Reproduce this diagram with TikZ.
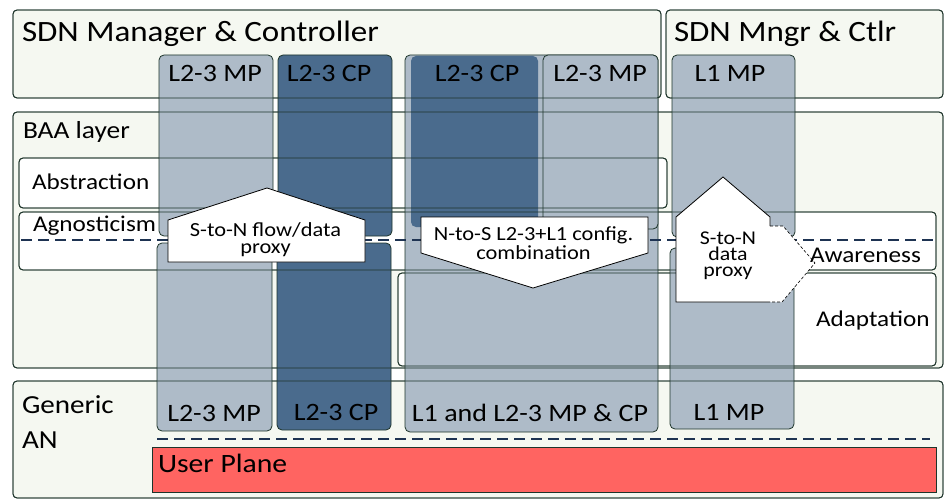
\documentclass[tikz,border=0pt]{standalone}
\usepackage{fontspec}
\setmainfont{Carlito}[FakeStretch=1.12]
\definecolor{bd}{HTML}{1D342A}
\definecolor{bgG}{HTML}{F5F8F1}
\definecolor{colL}{HTML}{AEBBC8}
\definecolor{colD}{HTML}{4A6B8D}
\definecolor{dsh}{HTML}{1E3352}
\definecolor{upred}{HTML}{FF6461}
\begin{document}
\begin{tikzpicture}[x=1pt,y=-1pt,
  every node/.style={inner sep=0pt,outer sep=0pt},
  gbox/.style={draw=bd,fill=bgG,line width=0.8pt,rounded corners=4pt,anchor=north west},
  wbox/.style={draw=bd,fill=white,line width=0.8pt,rounded corners=4pt,anchor=north west},
  lcol/.style={draw=bd,fill=colL,line width=0.8pt,rounded corners=5pt,anchor=north west},
  dcol/.style={draw=bd,fill=colD,line width=0.8pt,rounded corners=5pt,anchor=north west},
  outl/.style={draw=bd,line width=0.8pt,rounded corners=4pt},
  dline/.style={draw=dsh,line width=2.2pt,dash pattern=on 11pt off 6pt},
  arrshape/.style={draw=black,fill=white,line width=0.8pt,line join=miter},
  bigtxt/.style={font=\fontsize{29.5}{32}\selectfont,anchor=base west},
  laytxt/.style={font=\fontsize{22.5}{26}\selectfont,anchor=base west},
  coltxt/.style={font=\fontsize{25}{28}\selectfont,anchor=base},
  arrtxt/.style={font=\fontsize{20}{17}\selectfont,align=center},
]
\useasboundingbox (0,0) rectangle (944,500);
\fill[white] (0,0) rectangle (944,500);
% big boxes
\node[gbox,minimum width=648pt,minimum height=88pt] (smc) at (13,10) {};
\node[gbox,minimum width=277pt,minimum height=88pt] (smr) at (666,10) {};
\node[gbox,minimum width=930pt,minimum height=256pt] (baa) at (13,112) {};
\node[gbox,minimum width=930pt,minimum height=117pt] (gan) at (13,381) {};
% white sub-boxes
\node[wbox,minimum width=648pt,minimum height=50pt] (abs) at (19,158) {};
\node[wbox,minimum width=917pt,minimum height=58pt] (agn) at (19,212) {};
\node[wbox,minimum width=538pt,minimum height=93pt] (adp) at (398,273) {};
% columns
\node[lcol,minimum width=114pt,minimum height=181pt] (c1t) at (159,55) {};
\node[dcol,minimum width=114pt,minimum height=181pt] (c2t) at (278,55) {};
\node[lcol,minimum width=253pt,minimum height=377pt] (c3) at (405,55) {};
\node[dcol,draw=none,minimum width=127pt,minimum height=171pt] (c3cp) at (411,56) {};
\node[lcol,minimum width=115pt,minimum height=174pt] (c3mp) at (543,55) {};
\node[lcol,minimum width=123pt,minimum height=182pt] (c4t) at (672,55) {};
\node[lcol,minimum width=115pt,minimum height=188pt] (c1b) at (157,243) {};
\node[dcol,minimum width=114pt,minimum height=187pt] (c2b) at (277,243) {};
\node[lcol,minimum width=124pt,minimum height=181pt] (c4b) at (670,248) {};
% outlines seen through the columns
\foreach \n in {smc,smr,baa,gan,abs,agn,adp}
  \draw[outl] (\n.north west) rectangle (\n.south east);
% dashed separators
\coordinate (d1a) at (21,240);
\coordinate (d1b) at (936,240);
\coordinate (d2a) at (157,439);
\coordinate (d2b) at (930,439);
\draw[dline] (d1a) -- (d1b);
\draw[dline] (d2a) -- (d2b);
% user plane
\node[draw=bd,fill=upred,line width=0.8pt,anchor=north west,minimum width=784pt,minimum height=45pt] (up) at (152,447) {};
% arrows
\draw[arrshape] (168,262) -- (365,262) -- (365,220) -- (267,188) -- (168,220) -- cycle;
\draw[arrshape] (421,217) -- (648,217) -- (648,253) -- (533,288) -- (421,253) -- cycle;
\fill[white] (676,217) -- (723,177) -- (770,217) -- (770,226) -- (783,226) -- (815,263) -- (782,302) -- (676,302) -- cycle;
\draw[black,line width=0.8pt,line join=miter] (770,226) -- (770,217) -- (723,177) -- (676,217) -- (676,302) -- (770,302);
\draw[black,line width=0.6pt,dash pattern=on 3pt off 2pt] (770,226) -- (783,226) -- (815,263) -- (782,302) -- (770,302);
% texts
\node[bigtxt] (tsmc) at (22,42) {SDN Manager \& Controller};
\node[bigtxt] (tsmr) at (674,42) {SDN Mngr \& Ctlr};
\node[font=\fontsize{24.5}{28}\selectfont,anchor=base west] (tbaa) at (23,139) {BAA layer};
\node[laytxt] (tabs) at (32,189) {Abstraction};
\node[laytxt] (tagn) at (33,231) {Agnosticism};
\node[laytxt] (tawa) at (810,262) {Awareness};
\node[laytxt] (tadp) at (816,326) {Adaptation};
\node[font=\fontsize{26}{35}\selectfont,align=left,anchor=north west] (tgan) at (22,396) {Generic\\AN};
\node[font=\fontsize{26.5}{30}\selectfont,anchor=base west] (tup) at (158,472) {User Plane};
\node[coltxt] (l1) at (215,82) {L2-3 MP};
\node[coltxt] (l2) at (329,82) {L2-3 CP};
\node[coltxt] (l3) at (477,82) {L2-3 CP};
\node[coltxt] (l4) at (600,82) {L2-3 MP};
\node[coltxt] (l5) at (730,82) {L1 MP};
\node[coltxt] (l6) at (214,421) {L2-3 MP};
\node[coltxt] (l7) at (336,420) {L2-3 CP};
\node[coltxt] (l8) at (530,421) {L1 and L2-3 MP \& CP};
\node[coltxt] (l9) at (729,420) {L1 MP};
\node[arrtxt] (a1) at (265.5,240) {S-to-N flow/data\\proxy};
\node[arrtxt,font=\fontsize{20}{19.5}\selectfont] (a2) at (533.5,243) {N-to-S L2-3+L1 config.\\combination};
\node[arrtxt,font=\fontsize{19.5}{16}\selectfont] (a3) at (728,256) {S-to-N\\data\\proxy};
\end{tikzpicture}
\end{document}
